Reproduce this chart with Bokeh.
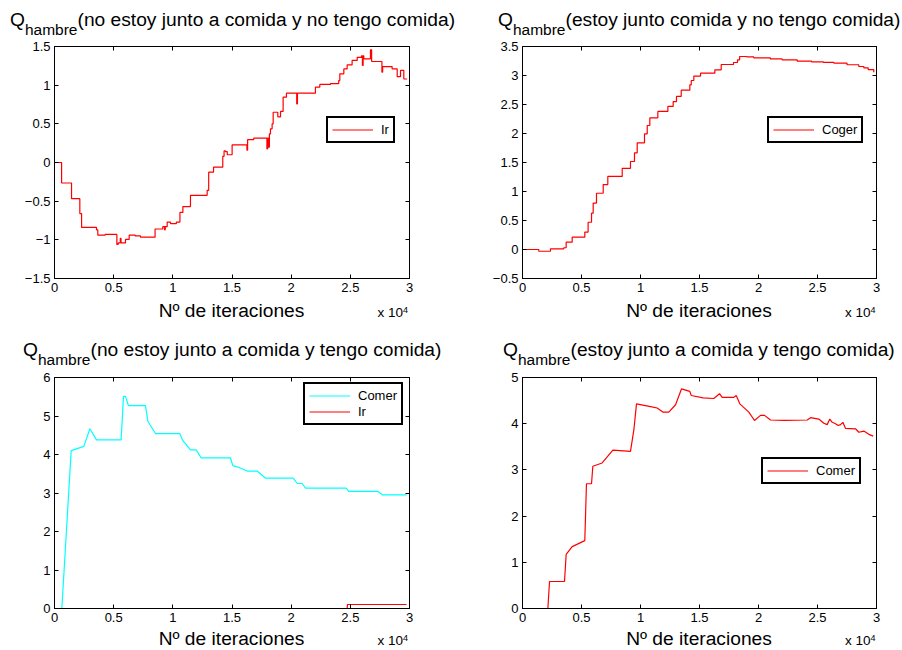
from bokeh.plotting import figure
from bokeh.models import (Range1d, LinearAxis, FixedTicker, Legend, LegendItem, Div,
                          CustomJSTickFormatter)
from bokeh.layouts import column, row
from bokeh.embed import file_html
from bokeh.resources import INLINE

FONT = "Liberation Sans"

# ---------------- data (iterations, Q values) ----------------
# Panel 1: Q_hambre(no estoy junto a comida y no tengo comida) - Ir (step)
p1_iter = [0, 600, 1440, 2140, 2290, 3550, 3660, 4280, 5270, 5380, 5560, 5620, 6000, 6310,
           6820, 7270, 8500, 9150, 9300, 9360, 9520, 9800, 10300, 10600, 10850, 11490, 12900,
           13030, 13440, 14220, 14330, 14450, 14600, 15010, 16260, 16320, 16840, 17950, 18010,
           18090, 18160, 18250, 18390, 18480, 18870, 19100, 19320, 19600, 20470, 20530, 22050,
           22420, 23320, 24020, 24110, 24450, 24730, 25150, 25580, 25940, 26020, 26080, 26140,
           26700, 26800, 27670, 27730, 28530, 28960, 29240, 29520, 29800]
p1_ir = [0, -0.265, -0.468, -0.66, -0.84, -0.87, -0.94, -0.93, -1.06, -1.04, -0.98, -1.04,
         -0.995, -0.94, -0.95, -0.965, -0.86, -0.83, -0.87, -0.83, -0.77, -0.79, -0.77, -0.645,
         -0.57, -0.425, -0.36, -0.125, -0.06, 0.08, 0.15, 0.14, 0.10, 0.228, 0.16, 0.297, 0.315,
         0.177, 0.315, 0.20, 0.37, 0.435, 0.5, 0.65, 0.59, 0.66, 0.845, 0.896, 0.757, 0.896,
         0.974, 1.009, 1.02, 1.06, 1.147, 1.21, 1.263, 1.32, 1.36, 1.38, 1.254, 1.38, 1.34,
         1.457, 1.306, 1.168, 1.24, 1.21, 1.11, 1.19, 1.08, 1.08]

# Panel 2: Q_hambre(estoy junto comida y no tengo comida) - Coger (step)
p2_iter = [0, 1380, 2370, 3500, 3700, 4210, 5280, 5560, 5850, 5990, 6270, 6840, 7230, 8450,
           9150, 9490, 9720, 10340, 10570, 10790, 11470, 12320, 12770, 13050, 13450, 14180,
           14300, 14520, 15090, 16300, 16840, 17880, 18220, 18400, 19000, 19600, 21000, 22000,
           23280, 24500, 25500, 26390, 27500, 28500, 28930, 29300, 29770]
p2_coger = [0.0, -0.03, 0.012, 0.03, 0.126, 0.213, 0.30, 0.47, 0.626, 0.80, 0.97, 1.12, 1.26,
            1.40, 1.517, 1.667, 1.84, 1.995, 2.138, 2.27, 2.38, 2.466, 2.55, 2.64, 2.747, 2.84,
            2.914, 2.99, 3.04, 3.098, 3.19, 3.224, 3.27, 3.328, 3.32, 3.305, 3.285, 3.27, 3.247,
            3.235, 3.225, 3.213, 3.185, 3.155, 3.13, 3.10, 3.057]

# Panel 3: Q_hambre(no estoy junto a comida y tengo comida) - Comer, Ir
p3_iter = [0, 620, 1410, 2480, 2990, 3550, 5630, 5830, 6000, 6250, 7690, 7890, 8540, 10590,
           10850, 11490, 11970, 12400, 14870, 15070, 15440, 16280, 17130, 17830, 20170, 20510,
           20930, 21210, 24650, 24870, 27350, 27690, 29750]
p3_comer = [0, 0, 4.10, 4.21, 4.67, 4.38, 4.38, 5.51, 5.51, 5.27, 5.27, 4.865, 4.54, 4.54,
            4.36, 4.12, 4.12, 3.91, 3.91, 3.71, 3.68, 3.57, 3.57, 3.385, 3.385, 3.247, 3.247,
            3.126, 3.126, 3.04, 3.04, 2.953, 2.953]
p3_ir_iter = [0, 24730, 24760, 29750]
p3_ir = [0, 0, 0.104, 0.104]

# Panel 4: Q_hambre(estoy junto a comida y tengo comida) - Comer
p4_iter = [0, 2150, 2290, 3560, 3700, 4210, 5280, 5420, 5850, 5960, 6750, 7660, 9150, 9440,
           9660, 10850, 11410, 11920, 12400, 12970, 13480, 14180, 14300, 15310, 16210, 16700,
           16920, 17910, 18110, 18420, 19180, 19660, 20170, 20510, 21020, 22150, 24130, 24410,
           25110, 25540, 25820, 26040, 26250, 26530, 26750, 26950, 27150, 27370, 28220, 28500,
           28930, 29350, 29720]
p4_comer = [0, 0, 0.584, 0.584, 1.17, 1.34, 1.47, 2.70, 2.70, 3.08, 3.15, 3.43, 3.40, 3.87,
            4.43, 4.37, 4.34, 4.25, 4.25, 4.41, 4.755, 4.70, 4.61, 4.56, 4.545, 4.65, 4.57, 4.57,
            4.61, 4.43, 4.25, 4.07, 4.18, 4.18, 4.08, 4.07, 4.08, 4.13, 4.10, 4.01, 3.98, 4.10,
            4.03, 4.0, 3.96, 3.98, 4.03, 3.90, 3.89, 3.815, 3.84, 3.77, 3.73]

x_ticks = [0, 0.5, 1, 1.5, 2, 2.5, 3]
y_ticks_1 = [-1.5, -1, -0.5, 0, 0.5, 1, 1.5]
y_ticks_2 = [-0.5, 0, 0.5, 1, 1.5, 2, 2.5, 3, 3.5]
y_ticks_3 = [0, 1, 2, 3, 4, 5, 6]
y_ticks_4 = [0, 1, 2, 3, 4, 5]

title_main = "Q"
title_sub = "hambre"
titles = [
    "(no estoy junto a comida y no tengo comida)",
    "(estoy junto comida y no tengo comida)",
    "(no estoy junto a comida y tengo comida)",
    "(estoy junto a comida y tengo comida)",
]
x_label = "N\u00ba de iteraciones"
x_scale_text = "x 10"
x_scale_exp = "4"

RED = "#ff0000"
CYAN = "#00ffff"
TITLE_SIZE = 19.2
TICK_SIZE = "13px"

label_fmt = CustomJSTickFormatter(code="return tick.toString().replace('-', '\u2212');")


def blank_fmt():
    return CustomJSTickFormatter(code="return '';")


def style_axis(ax, show_labels):
    ax.axis_line_color = "black"
    ax.axis_line_width = 1
    ax.major_tick_in = 4
    ax.major_tick_out = 0
    ax.major_tick_line_color = "black"
    ax.minor_tick_line_color = None
    ax.major_label_text_font = FONT
    ax.major_label_text_font_size = TICK_SIZE if show_labels else "0px"
    ax.major_label_text_color = "black"
    ax.major_label_standoff = 4 if show_labels else 0


def make_fig(width, height, left, right, top, bottom, yr, yticks):
    p = figure(width=width, height=height, output_backend="svg", toolbar_location=None,
               x_range=Range1d(0, 3), y_range=Range1d(*yr),
               min_border_left=left, min_border_right=right,
               min_border_top=top, min_border_bottom=bottom,
               x_axis_location=None, y_axis_location=None)
    p.grid.visible = False
    p.outline_line_color = "black"
    p.outline_line_width = 1
    p.background_fill_color = "white"
    p.border_fill_color = "white"
    for loc, show in (("below", True), ("above", False)):
        ax = LinearAxis(ticker=FixedTicker(ticks=x_ticks),
                        formatter=label_fmt if show else blank_fmt())
        style_axis(ax, show)
        p.add_layout(ax, loc)
    for loc, show in (("left", True), ("right", False)):
        ax = LinearAxis(ticker=FixedTicker(ticks=yticks),
                        formatter=label_fmt if show else blank_fmt())
        style_axis(ax, show)
        p.add_layout(ax, loc)
    return p


def wrap(inner, w, h):
    return (f'<div style="position:relative;width:{w}px;height:{h}px;overflow:hidden;'
            f'font-family:\'{FONT}\';color:#000;margin:0;padding:0;">{inner}</div>')


def title_div(w, h, qx, rest):
    top = 26.7 - 0.8465 * TITLE_SIZE
    inner = (f'<span style="position:absolute;left:{qx}px;top:{top:.2f}px;white-space:nowrap;'
             f'font-size:{TITLE_SIZE}px;line-height:{TITLE_SIZE}px;">{title_main}'
             f'<span style="font-size:15.5px;position:relative;top:8.3px;">{title_sub}</span>'
             f'{rest}</span>')
    return Div(text=wrap(inner, w, h), width=w, height=h, margin=0)


def xlabel_div(w, h, cx, rx, base):
    t1 = base - 0.8465 * TITLE_SIZE
    t2 = base + 0.3 - 0.8465 * 13.5
    inner = (f'<span style="position:absolute;left:{cx}px;top:{t1:.2f}px;white-space:nowrap;'
             f'transform:translateX(-50%);font-size:{TITLE_SIZE}px;line-height:{TITLE_SIZE}px;">'
             f'{x_label}</span>'
             f'<span style="position:absolute;left:{rx}px;top:{t2:.2f}px;white-space:nowrap;'
             f'font-size:13.5px;line-height:13.5px;">{x_scale_text}'
             f'<span style="font-size:9px;position:relative;top:-4px;">{x_scale_exp}</span></span>')
    return Div(text=wrap(inner, w, h), width=w, height=h, margin=0)


def make_legend(items, loc):
    lg = Legend(items=items, location=loc)
    lg.border_line_color = "black"
    lg.border_line_width = 2
    lg.border_line_alpha = 1
    lg.background_fill_color = "white"
    lg.background_fill_alpha = 1
    lg.label_text_font = FONT
    lg.label_text_font_size = "13px"
    lg.label_text_color = "black"
    lg.glyph_width = 41
    lg.glyph_height = 15
    lg.label_height = 15
    lg.label_width = 0
    lg.label_standoff = 8
    lg.padding = 4
    lg.spacing = 1
    lg.margin = 0
    return lg


def scale(v):
    return [a / 1e4 for a in v]


W1, W2 = 468, 432

# ---------------- panel 1 ----------------
f1 = make_fig(W1, 260, 54, 59, 8, 20, (-1.5, 1.5), y_ticks_1)
r1 = f1.step(scale(p1_iter), p1_ir, mode="after", line_color=RED, line_width=1.2)
f1.add_layout(make_legend([LegendItem(label="Ir", renderers=[r1])], (272, 135)))

# ---------------- panel 2 ----------------
f2 = make_fig(W2, 260, 54, 24, 8, 20, (-0.5, 3.5), y_ticks_2)
r2 = f2.step(scale(p2_iter), p2_coger, mode="after", line_color=RED, line_width=1.2)
f2.add_layout(make_legend([LegendItem(label="Coger", renderers=[r2])], (245, 135)))

# ---------------- panel 3 ----------------
f3 = make_fig(W1, 259, 54, 59, 8, 20, (0, 6), y_ticks_3)
r3a = f3.line(scale(p3_iter), p3_comer, line_color=CYAN, line_width=1.2)
r3b = f3.line(scale(p3_ir_iter), p3_ir, line_color=RED, line_width=1.2)
f3.add_layout(make_legend([LegendItem(label="Comer", renderers=[r3a]),
                           LegendItem(label="Ir", renderers=[r3b])], (249, 183)))

# ---------------- panel 4 ----------------
f4 = make_fig(W2, 259, 54, 24, 8, 20, (0, 5), y_ticks_4)
r4 = f4.line(scale(p4_iter), p4_comer, line_color=RED, line_width=1.2)
f4.add_layout(make_legend([LegendItem(label="Comer", renderers=[r4])], (239, 124)))

t1 = title_div(W1, 38, 10, titles[0])
t2 = title_div(W2, 38, 30, titles[1])
x1 = xlabel_div(W1, 32, 231.5, 377.5, 19)
x2 = xlabel_div(W2, 32, 231, 377, 19)
t3 = title_div(W1, 39, 23, titles[2])
t4 = title_div(W2, 39, 35, titles[3])
x3 = xlabel_div(W1, 20, 231.5, 377.5, 17.3)
x4 = xlabel_div(W2, 20, 231, 377, 17.3)

layout = column(row(t1, t2), row(f1, f2), row(x1, x2),
                row(t3, t4), row(f3, f4), row(x3, x4))
open("out.html", "w").write(file_html(layout, INLINE))
